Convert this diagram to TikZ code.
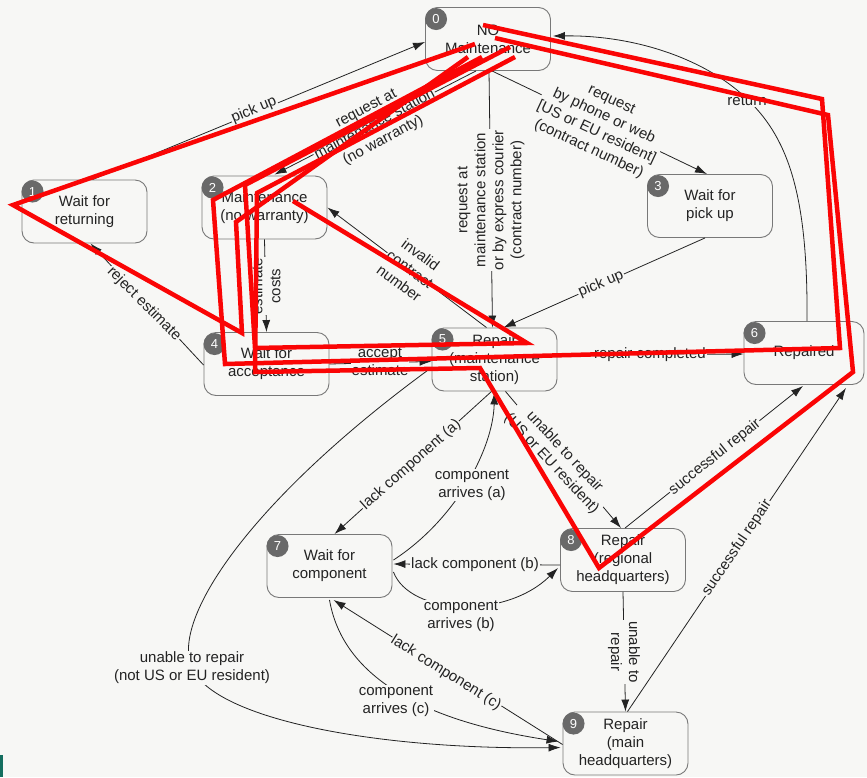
\documentclass[tikz,border=0pt]{standalone}
\usepackage{fontspec}
\setmainfont{Liberation Sans}
\usetikzlibrary{arrows.meta,calc}
\definecolor{paper}{RGB}{247,247,245}
\definecolor{ink}{RGB}{35,35,35}
\definecolor{badge}{RGB}{105,105,105}
\definecolor{boxline}{RGB}{120,120,120}
\definecolor{marker}{RGB}{250,5,5}
\definecolor{tab}{RGB}{20,110,95}
\begin{document}
\begin{tikzpicture}[x=1pt,y=-1pt,
  state/.style={draw=boxline, line width=0.9pt, rounded corners=12pt, fill=paper,
    minimum width=125pt, minimum height=63pt, align=center, inner sep=0pt,
    font=\fontsize{15}{18}\selectfont, text=ink},
  num/.style={circle, fill=badge, text=white, minimum size=22pt, inner sep=0pt,
    font=\fontsize{13}{13}\selectfont},
  tr/.style={draw=ink, line width=0.8pt, -{Latex[length=12pt,width=8pt]}},
  lbl/.style={fill=paper, inner sep=1pt, align=center,
    font=\fontsize{15}{18}\selectfont, text=ink},
  pen/.style={draw=marker, line width=4.5pt, line join=miter}
]
% page
\fill[paper] (0,0) rectangle (867,777);
\useasboundingbox (0,0) rectangle (867,777);
\fill[tab] (0,755) rectangle (3,777);

% states
\node[state] (n0) at (488,39) {NO\\Maintenance};
\node[state] (n1) at (84.5,211.5) {Wait for\\returning};
\node[state] (n2) at (264.5,207.5) {Maintenance\\(no warranty)};
\node[state] (n3) at (710,206) {Wait for\\pick up};
\node[state] (n4) at (266.5,364) {Wait for\\acceptance};
\node[state] (n5) at (494.5,359.5) {Repair\\(maintenance\\station)};
\node[state, minimum width=120pt] (n6) at (804,353) {Repaired};
\node[state] (n7) at (329.5,566) {Wait for\\component};
\node[state] (n8) at (623,560) {Repair\\(regional\\headquarters)};
\node[state] (n9) at (625.5,743.5) {Repair\\(main\\headquarters)};

% numbered badges
\foreach \s/\k in {n0/0,n1/1,n2/2,n3/3,n4/4,n5/5,n6/6,n7/7,n8/8,n9/9}
  \node[num] (b\k) at ($(\s.north west)+(11,12)$) {\k};

% transitions
\draw[tr] ($(n1.north)+(8,0)$) -- ($(n0.west)+(0,3)$);
\draw[tr] ($(n0.south)+(-12,0)$) -- ($(n2.north)+(10,-1)$);
\draw[tr] ($(n0.south)+(1,0)$) -- ($(n5.north)+(-2,0)$);
\draw[tr] ($(n0.south)+(4,0)$) -- ($(n3.north)+(-3,0)$);
\draw[tr] ($(n3.south)+(-5,0)$) -- ($(n5.north)+(9,0)$);
\draw[tr] ($(n5.north)+(-8,0)$) -- (n2.east);
\draw[tr] (n2.south) -- (n4.north);
\draw[tr] ($(n4.west)+(0,1)$) -- ($(n1.south)+(6,0)$);
\draw[tr] (n4.east) -- ($(n5.west)+(0,2)$);
\draw[tr] ($(n5.east)+(0,-4)$) -- ($(n6.west)+(0,1)$);
\draw[tr] ($(n6.north)+(3,0)$) .. controls (808,200) and (790,140) .. (748,100)
  .. controls (710,62) and (640,35) .. ($(n0.east)+(2,-3)$);
\draw[tr] ($(n5.south)+(-3,0)$) -- ($(n7.north)+(5,0)$);
\draw[tr] ($(n7.east)+(1,-6)$) .. controls (455,520) and (493,450) .. ($(n5.south)+(0,1)$);
\draw[tr] ($(n8.west)+(0,5)$) -- ($(n7.east)+(1,-2)$);
\draw[tr] ($(n7.east)+(1,6)$) .. controls (410,615) and (505,620) .. ($(n8.west)+(-2,8)$);
\draw[tr] ($(n5.south)+(11,0)$) -- ($(n8.north)+(-2,0)$);
\draw[tr] ($(n8.north)+(2,0)$) -- ($(n6.south)+(-1,1)$);
\draw[tr] ($(n9.north)+(2,0)$) -- ($(n6.south)+(42,3)$);
\draw[tr] (n8.south) -- (n9.north);
\draw[tr] ($(n5.west)+(0,8)$) .. controls (250,500) and (170,620) .. (192,668)
  .. controls (215,720) and (380,750) .. ($(n9.west)+(-2,4)$);
\draw[tr] ($(n9.west)+(0,1)$) -- ($(n7.south)+(4,2)$);
\draw[tr] ($(n7.south)+(0,2)$) .. controls (345,690) and (450,725) .. ($(n9.west)+(-4,-2)$);

% transition labels
\node[lbl, rotate=22.6] (l1) at (254,110) {pick up};
\node[lbl, rotate=28] (l2) at (375,125) {request at\\maintenance station\\(no warranty)};
\node[lbl, rotate=90] (l3) at (491,200) {request at\\maintenance station\\or by express courier\\(contract number)};
\node[lbl, rotate=-25] (l4) at (600,125) {request\\by phone or web\\{[US or EU resident]}\\(contract number)};
\node[lbl, rotate=23] (l5) at (601,284) {pick up};
\node[lbl, rotate=-36.6] (l6) at (410,269) {invalid\\contract\\number};
\node[lbl, rotate=90] (l7) at (266,286) {estimate\\costs};
\node[lbl, rotate=-45] (l8) at (144,304) {reject estimate};
\node[lbl] (l9) at (380,362) {accept\\estimate};
\node[lbl] (l10) at (650,355) {repair completed};
\node[lbl] (l11) at (747,101) {return};
\node[lbl, rotate=41.5] (l12) at (411,465) {lack component (a)};
\node[lbl] (l13) at (472,485) {component\\arrives (a)};
\node[lbl] (l14) at (475,565) {lack component (b)};
\node[lbl] (l15) at (461,616) {component\\arrives (b)};
\node[lbl, rotate=-47] (l16) at (558,458) {unable to repair\\(US or EU resident)};
\node[lbl, rotate=38.6] (l17) at (715,457) {successful repair};
\node[lbl, rotate=56] (l18) at (737,548) {successful repair};
\node[lbl, rotate=-90] (l19) at (624,652) {unable to\\repair};
\node[lbl] (l20) at (192,668) {unable to repair\\(not US or EU resident)};
\node[lbl, rotate=-32] (l21) at (446,673) {lack component (c)};
\node[lbl] (l22) at (396,701) {component\\arrives (c)};

% red marker strokes over the chart
\draw[pen] (475,44) -- (13,205) -- (242,333) -- (236,222) -- (468,57);
\draw[pen] (482,57) -- (213,200) -- (225,364) -- (840,348) -- (822,99) -- (483,25);
\draw[pen] (510,47) -- (245,185) -- (255,348) -- (527,343) -- (293,201);
\draw[pen] (515,57) -- (257,193) -- (255,372) -- (480,368) -- (599,568) -- (853,372) -- (828,115) -- (495,38);
\end{tikzpicture}
\end{document}
